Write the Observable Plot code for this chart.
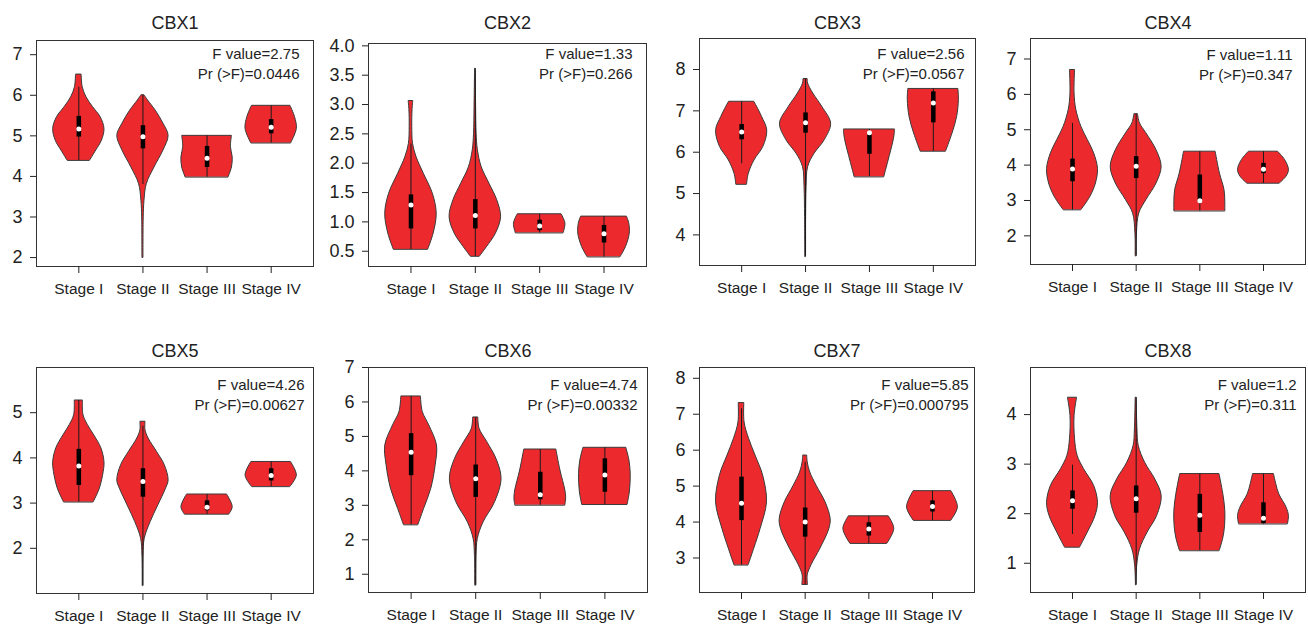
<!DOCTYPE html>
<html><head><meta charset="utf-8">
<script src="https://cdn.jsdelivr.net/npm/d3@7"></script>
<script src="https://cdn.jsdelivr.net/npm/@observablehq/plot@0.6"></script>
<style>
body{margin:0;background:#fff;width:1308px;height:625px;position:relative;overflow:hidden;font-family:"Liberation Sans",Arial,sans-serif;}
.panel{position:absolute;}
</style></head><body>
<script>
// ---------- data ----------
const stages = ["Stage I","Stage II","Stage III","Stage IV"];
const genes = ["CBX1","CBX2","CBX3","CBX4","CBX5","CBX6","CBX7","CBX8"];
const fValues = ["2.75","1.33","2.56","1.11","4.26","4.74","5.85","1.2"];
const pValues = ["0.0446","0.266","0.0567","0.347","0.00627","0.00332","0.000795","0.311"];
const yTicks = [
  [2,3,4,5,6,7],
  [0.5,1.0,1.5,2.0,2.5,3.0,3.5,4.0],
  [4,5,6,7,8],
  [2,3,4,5,6,7],
  [2,3,4,5],
  [1,2,3,4,5,6,7],
  [3,4,5,6,7,8],
  [1,2,3,4]
];
const yDomains = [[1.78,7.35],[0.24,4.04],[3.26,8.75],[1.19,7.58],[1.0,6.0],[0.47,7.0],[2.04,8.3],[0.41,4.95]];

// violin profiles per stage: [value, relative half-width (1 = widest)]
const violinCBX1 = [
  [[4.39,.44],[4.64,.68],[4.88,.9],[5.17,1],[5.46,.85],[5.71,.55],[5.95,.3],[6.2,.15],[6.51,.11]],
  [[2.0,.02],[2.99,.03],[3.4,.06],[3.81,.15],[4.22,.45],[4.64,.8],[5.0,1],[5.3,.8],[5.62,.5],[5.87,.2],[6.0,.06]],
  [[3.98,.84],[4.22,.97],[4.47,1],[4.72,.93],[5.0,.97]],
  [[4.82,.78],[5.17,1],[5.46,.93],[5.74,.75]]
];
const violinCBX2 = [
  [[0.53,.67],[0.8,.88],[1.14,1],[1.48,.85],[1.82,.5],[2.1,.22],[2.33,.08],[2.62,.05],[2.9,.06],[3.06,.09]],
  [[0.41,.18],[0.57,.45],[0.8,.8],[1.08,1],[1.37,.85],[1.65,.55],[1.93,.25],[2.22,.1],[2.5,.05],[2.96,.03],[3.61,.01]],
  [[0.81,.93],[0.97,1],[1.13,.85]],
  [[0.4,.64],[0.57,.85],[0.8,1],[0.97,.98],[1.09,.89]]
];
const violinCBX3 = [
  [[5.22,.21],[5.48,.28],[5.8,.5],[6.13,.85],[6.53,1],[6.85,.8],[7.1,.6],[7.22,.49]],
  [[3.47,.01],[4.43,.02],[5.16,.04],[5.64,.1],[5.96,.35],[6.29,.75],[6.69,1],[7.1,.65],[7.42,.3],[7.66,.1],[7.77,.08]],
  [[5.4,.58],[5.8,.75],[6.21,.92],[6.4,.98],[6.55,1]],
  [[6.02,.5],[6.45,.75],[6.85,.93],[7.26,1],[7.53,.98]]
];
const violinCBX4 = [
  [[2.73,.35],[3.1,.7],[3.48,.92],[3.89,1],[4.33,.85],[4.71,.6],[5.08,.35],[5.56,.15],[6.03,.08],[6.69,.1]],
  [[1.43,.02],[2.07,.03],[2.63,.12],[3.01,.4],[3.48,.8],[3.95,1],[4.42,.8],[4.9,.4],[5.18,.15],[5.44,.07]],
  [[2.7,1],[2.95,1],[3.29,.97],[3.76,.79],[4.38,.62]],
  [[3.48,.64],[3.67,.9],[3.86,1],[4.14,.85],[4.38,.57]]
];
const violinCBX5 = [
  [[3.02,.58],[3.32,.82],[3.69,.97],[3.91,1],[4.21,.88],[4.5,.6],[4.73,.35],[4.95,.18],[5.27,.16]],
  [[1.17,.01],[1.84,.02],[2.21,.07],[2.58,.3],[2.95,.6],[3.32,.9],[3.5,1],[3.84,.85],[4.13,.55],[4.43,.22],[4.61,.1],[4.8,.1]],
  [[2.75,.87],[2.91,1],[3.19,.78]],
  [[3.36,.75],[3.61,1],[3.91,.77]]
];
const violinCBX6 = [
  [[2.43,.28],[2.89,.5],[3.48,.78],[4.16,.95],[4.74,1],[5.32,.7],[5.71,.45],[6.16,.38]],
  [[0.68,.02],[1.53,.03],[2.02,.08],[2.5,.3],[3.09,.75],[3.77,1],[4.35,.8],[4.83,.45],[5.22,.15],[5.55,.1]],
  [[3.0,.97],[3.2,1],[3.43,.97],[4.01,.78],[4.62,.62]],
  [[3.02,.88],[3.4,.97],[3.91,1],[4.3,.95],[4.67,.83]]
];
const violinCBX7 = [
  [[2.8,.28],[3.26,.5],[3.81,.75],[4.55,1],[5.29,.85],[5.85,.55],[6.31,.3],[6.77,.12],[7.31,.11]],
  [[2.26,.11],[2.52,.1],[2.8,.25],[3.26,.6],[3.81,.95],[4.09,1],[4.55,.8],[5.01,.45],[5.38,.2],[5.66,.1],[5.85,.08]],
  [[3.4,.73],[3.81,1],[4.16,.78]],
  [[4.04,.74],[4.41,1],[4.86,.74]]
];
const violinCBX8 = [
  [[1.32,.3],[1.62,.6],[1.95,.9],[2.22,1],[2.56,.85],[2.9,.45],[3.17,.2],[3.5,.1],[3.97,.08],[4.34,.18]],
  [[0.56,.01],[0.95,.04],[1.28,.15],[1.62,.45],[1.95,.82],[2.36,1],[2.69,.75],[3.03,.35],[3.37,.1],[3.7,.05],[4.34,.02]],
  [[1.25,.78],[1.5,.92],[1.75,.99],[2.06,1],[2.4,.92],[2.8,.77]],
  [[1.79,.96],[1.95,1],[2.12,.91],[2.39,.62],[2.6,.5],[2.8,.41]]
];

// box stats per stage: [whisker low, Q1, median, Q3, whisker high]
const boxCBX1 = [[4.39,4.97,5.17,5.48,6.2],[3.8,4.68,4.98,5.25,6.0],[3.98,4.22,4.45,4.74,5.0],[4.82,5.05,5.21,5.4,5.74]];
const boxCBX2 = [[0.53,0.88,1.29,1.46,2.33],[0.41,0.88,1.11,1.38,3.61],[0.81,0.85,0.93,1.03,1.13],[0.4,0.64,0.8,0.94,1.09]];
const boxCBX3 = [[5.72,6.3,6.49,6.67,7.22],[3.47,6.46,6.71,6.95,7.77],[5.41,5.95,6.47,6.47,6.55],[6.02,6.71,7.19,7.46,7.53]];
const boxCBX4 = [[2.73,3.53,3.89,4.17,5.18],[1.43,3.62,3.97,4.24,5.44],[2.7,2.95,2.99,3.72,4.38],[3.48,3.76,3.88,4.05,4.38]];
const boxCBX5 = [[3.02,3.39,3.82,4.19,5.27],[1.17,3.13,3.48,3.76,4.7],[2.75,2.83,2.91,3.05,3.19],[3.36,3.49,3.61,3.76,3.91]];
const boxCBX6 = [[2.43,3.86,4.54,5.08,6.16],[0.68,3.23,3.77,4.17,5.55],[3.0,3.16,3.31,3.96,4.62],[3.02,3.38,3.88,4.35,4.67]];
const boxCBX7 = [[2.8,4.04,4.52,5.25,7.15],[2.26,3.58,4.0,4.39,5.66],[3.4,3.61,3.81,3.98,4.16],[4.04,4.28,4.43,4.59,4.86]];
const boxCBX8 = [[1.58,2.09,2.26,2.46,2.98],[0.56,2.01,2.3,2.56,4.34],[1.25,1.62,1.97,2.39,2.8],[1.79,1.8,1.91,2.22,2.8]];

const violins = [violinCBX1,violinCBX2,violinCBX3,violinCBX4,violinCBX5,violinCBX6,violinCBX7,violinCBX8];
const boxStats = [boxCBX1,boxCBX2,boxCBX3,boxCBX4,boxCBX5,boxCBX6,boxCBX7,boxCBX8];

// ---------- layout ----------
const frames = [[36,40,313,266],[368,43,646,266],[699,38,975,265],[1030,38,1305,264],
                [36,367,313,593],[368,367,647,592],[699,367,974,592],[1030,367,1305,592]];
const titleY = [22.5,22.5,22.5,22.5,351,351,351,351];
const annot = [[-14,14],[-14,11],[-11,16],[-13,17],[-9,18],[-10,18],[-6,18],[-9,18]];
const halfMax = 0.4;
const mL=44,mR=3,mT=36,mB=40;
const font = '"Liberation Sans", Arial, Helvetica, sans-serif';

genes.forEach((g,i)=>{
  const [l,t,r,b] = frames[i];
  const rows = [];
  violins[i].forEach((prof,s)=>prof.forEach(([v,w])=>rows.push({s:s+1,v,w})));
  const boxes = boxStats[i].map((bx,s)=>({s:s+1,lo:bx[0],q1:bx[1],med:bx[2],q3:bx[3],hi:bx[4]}));
  const p = Plot.plot({
    width: r-l+mL+mR, height: b-t+mT+mB,
    marginLeft:mL, marginRight:mR, marginTop:mT, marginBottom:mB,
    x:{domain:[0.34,4.66], label:null},
    y:{domain:yDomains[i], label:null},
    style:{fontFamily:font, color:"#222", background:"transparent", overflow:"visible"},
    marks:[
      Plot.areaX(rows,{y:"v", x1:d=>d.s-halfMax*d.w, x2:d=>d.s+halfMax*d.w, z:"s",
        fill:"#EC2A2E", stroke:"#3a3a3a", strokeWidth:1, curve:"catmull-rom"}),
      Plot.ruleX(boxes,{x:"s", y1:"lo", y2:"hi", stroke:"#1a1a1a", strokeWidth:1}),
      Plot.ruleX(boxes,{x:"s", y1:"q1", y2:"q3", stroke:"#000", strokeWidth:4.5}),
      Plot.dot(boxes,{x:"s", y:"med", r:2.5, fill:"white", stroke:null}),
      Plot.frame({stroke:"#333"}),
      Plot.axisY({ticks:yTicks[i], tickSize:6, tickPadding:8, fontSize:18, label:null,
        tickFormat: i===1 ? d3.format(".1f") : d3.format("d")}),
      Plot.axisX({ticks:[1,2,3,4], tickFormat:d=>stages[d-1], tickSize:7, tickPadding:9, fontSize:15.5, label:null}),
      Plot.text([g],{text:d=>d, frameAnchor:"top", lineAnchor:"middle", dy:titleY[i]-t, fontSize:18}),
      Plot.text([`F value=${fValues[i]}`],{text:d=>d, frameAnchor:"top-right", textAnchor:"end", lineAnchor:"middle",
        dx:annot[i][0], dy:annot[i][1], fontSize:15}),
      Plot.text([`Pr (>F)=${pValues[i]}`],{text:d=>d, frameAnchor:"top-right", textAnchor:"end", lineAnchor:"middle",
        dx:annot[i][0], dy:annot[i][1]+20, fontSize:15})
    ]
  });
  const div = document.createElement("div");
  div.className = "panel";
  div.style.left = (l-mL)+"px";
  div.style.top = (t-mT)+"px";
  div.appendChild(p);
  document.body.appendChild(div);
});
</script>
</body></html>
